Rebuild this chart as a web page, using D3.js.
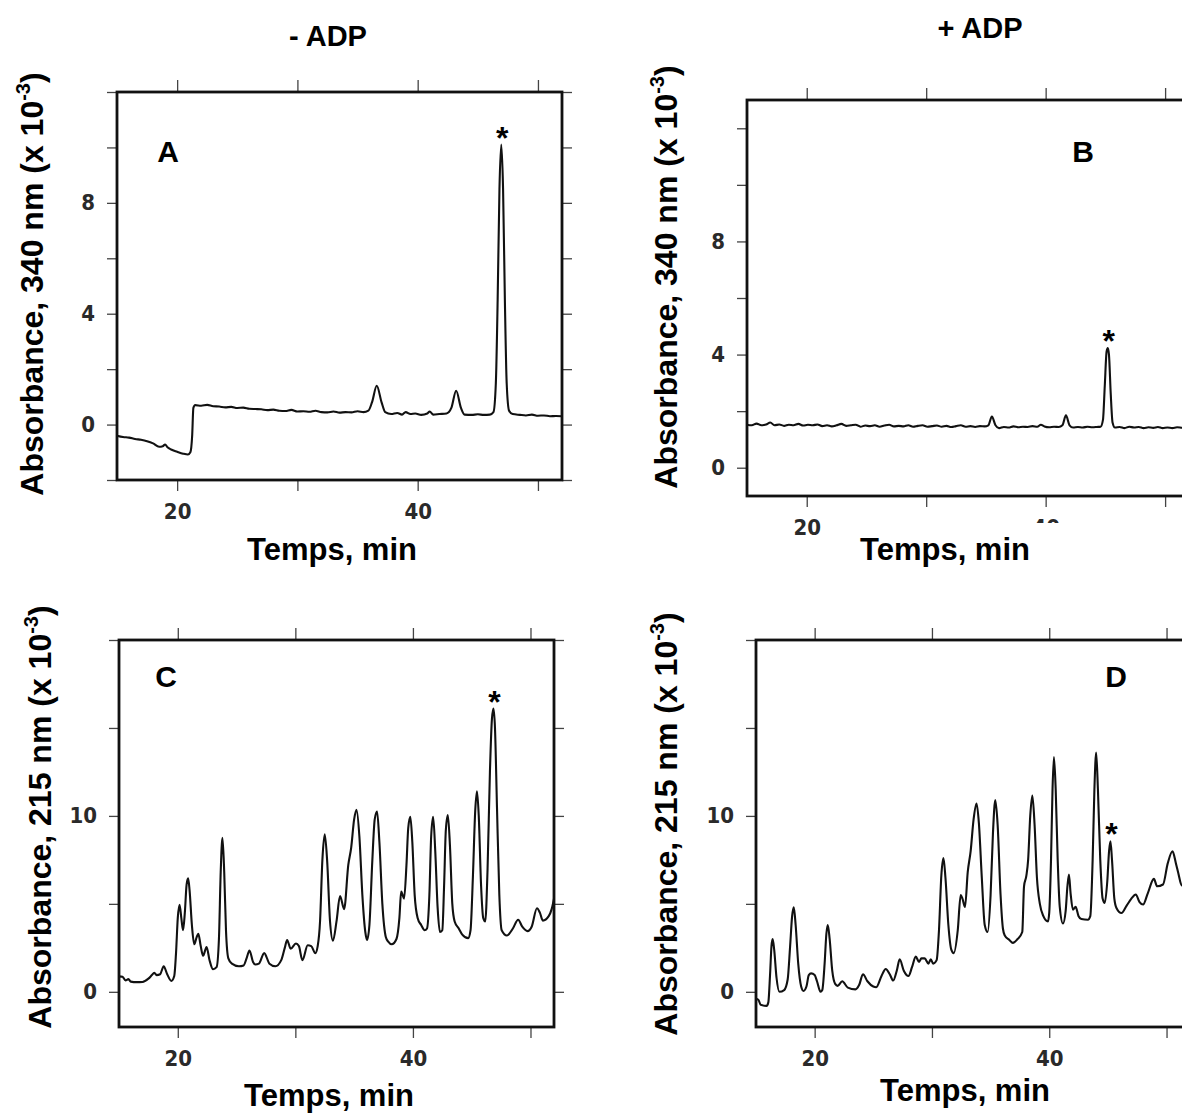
<!DOCTYPE html>
<html>
<head>
<meta charset="utf-8">
<script src="https://cdn.jsdelivr.net/npm/d3@7"></script>
<style>
  body { margin: 0; background: #fff; overflow: hidden; }
  .tick line { stroke: #444; stroke-width: 1.3; }
  .big { font-family: "Liberation Sans", Arial, sans-serif; font-weight: bold; fill: #000; }
</style>
</head>
<body>
<div id="chart"></div>
<script>
var w = 1182,
    h = 1113;

// ---- data (time in min, absorbance x 10^-3) ----
var seriesA = [[15.0,-0.40],[15.5,-0.45],[16.0,-0.47],[16.5,-0.52],[17.0,-0.55],[17.5,-0.6],[18.0,-0.68],[18.5,-0.8],[18.8,-0.78],[19.0,-0.72],[19.2,-0.82],[19.5,-0.9],[20.0,-0.98],[20.5,-1.05],[20.9,-1.08],[21.1,-1.0],[21.25,-0.4],[21.35,0.6],[21.5,0.7],[22.0,0.68],[22.5,0.71],[23.0,0.66],[23.5,0.65],[24.0,0.62],[24.5,0.64],[25.0,0.6],[25.5,0.61],[26.0,0.57],[26.5,0.56],[27.0,0.55],[27.5,0.52],[28.0,0.54],[28.5,0.5],[29.0,0.49],[29.5,0.53],[30.0,0.47],[30.5,0.48],[31.0,0.46],[31.5,0.5],[32.0,0.45],[32.5,0.44],[33.0,0.47],[33.5,0.43],[34.0,0.45],[34.5,0.44],[35.0,0.48],[35.5,0.45],[35.9,0.5],[36.2,0.8],[36.6,1.4],[37.0,0.8],[37.3,0.45],[37.8,0.38],[38.3,0.42],[38.7,0.36],[39.0,0.45],[39.4,0.38],[39.8,0.4],[40.3,0.35],[40.8,0.4],[41.0,0.47],[41.3,0.36],[41.8,0.38],[42.4,0.4],[42.8,0.6],[43.2,1.22],[43.6,0.6],[43.9,0.36],[44.5,0.35],[45.0,0.37],[45.5,0.35],[46.0,0.36],[46.3,0.45],[46.5,1.5],[46.65,4.5],[46.8,8.5],[46.95,10.1],[47.1,8.5],[47.25,4.5],[47.4,1.5],[47.6,0.5],[47.9,0.38],[48.5,0.35],[49.0,0.33],[49.5,0.36],[50.0,0.32],[50.5,0.33],[51.0,0.3],[51.5,0.31],[52.0,0.3]];

var seriesB = [[15.0,1.52],[15.4,1.5],[15.8,1.56],[16.2,1.5],[16.6,1.53],[16.95,1.6],[17.3,1.5],[17.7,1.53],[18.1,1.48],[18.5,1.52],[18.9,1.5],[19.3,1.55],[19.7,1.49],[20.1,1.52],[20.5,1.5],[20.9,1.53],[21.3,1.47],[21.7,1.5],[22.1,1.46],[22.5,1.5],[22.9,1.55],[23.3,1.48],[23.7,1.5],[24.1,1.52],[24.5,1.45],[24.9,1.49],[25.3,1.47],[25.7,1.5],[26.1,1.45],[26.5,1.49],[26.9,1.52],[27.3,1.46],[27.7,1.48],[28.1,1.46],[28.5,1.5],[28.9,1.45],[29.3,1.48],[29.7,1.5],[30.1,1.45],[30.5,1.47],[30.9,1.49],[31.3,1.45],[31.7,1.48],[32.1,1.44],[32.5,1.47],[32.9,1.5],[33.3,1.45],[33.7,1.47],[34.1,1.44],[34.5,1.47],[34.9,1.46],[35.2,1.5],[35.5,1.81],[35.8,1.5],[36.1,1.4],[36.5,1.44],[36.9,1.42],[37.3,1.46],[37.7,1.43],[38.1,1.45],[38.5,1.44],[38.9,1.47],[39.3,1.45],[39.6,1.52],[39.9,1.46],[40.3,1.43],[40.7,1.45],[41.1,1.44],[41.4,1.5],[41.7,1.85],[42.0,1.5],[42.3,1.42],[42.7,1.44],[43.1,1.42],[43.5,1.45],[43.9,1.43],[44.3,1.44],[44.6,1.45],[44.8,1.7],[44.95,2.9],[45.1,4.1],[45.2,4.23],[45.3,4.0],[45.45,2.6],[45.6,1.6],[45.8,1.42],[46.2,1.44],[46.6,1.4],[47.0,1.45],[47.4,1.42],[47.8,1.44],[48.2,1.4],[48.6,1.43],[49.0,1.41],[49.4,1.44],[49.8,1.4],[50.2,1.42],[50.6,1.4],[51.0,1.43],[51.5,1.41],[52.0,1.42]];

var seriesC = [[15.0,0.88],[15.3,0.86],[15.55,0.65],[15.8,0.72],[16.0,0.58],[16.5,0.55],[17.0,0.56],[17.5,0.75],[17.8,0.95],[18.0,1.08],[18.2,0.95],[18.5,1.0],[18.8,1.45],[19.1,1.0],[19.45,0.62],[19.7,0.9],[19.85,2.2],[20.0,4.2],[20.15,4.95],[20.3,4.2],[20.45,3.5],[20.6,4.5],[20.75,6.1],[20.88,6.45],[21.0,5.8],[21.2,3.8],[21.4,2.7],[21.6,3.1],[21.75,3.3],[21.95,2.6],[22.15,2.05],[22.45,2.55],[22.7,1.8],[23.0,1.28],[23.3,1.4],[23.5,3.0],[23.65,6.8],[23.8,8.75],[23.95,6.8],[24.1,3.5],[24.3,1.9],[24.6,1.6],[25.2,1.45],[25.6,1.5],[25.85,1.9],[26.1,2.35],[26.4,1.7],[26.6,1.55],[26.9,1.6],[27.35,2.2],[27.8,1.6],[28.3,1.45],[28.8,1.8],[29.1,2.5],[29.3,2.95],[29.6,2.45],[30.05,2.75],[30.3,2.6],[30.6,1.8],[31.05,2.65],[31.35,2.6],[31.7,2.2],[31.9,2.6],[32.1,4.0],[32.3,7.5],[32.5,8.95],[32.7,7.5],[32.95,4.0],[33.2,2.9],[33.5,4.0],[33.8,5.45],[34.15,4.7],[34.5,7.2],[34.75,8.2],[35.0,9.8],[35.2,10.35],[35.45,8.8],[35.7,5.5],[35.95,3.4],[36.1,2.95],[36.3,3.8],[36.55,7.5],[36.75,9.8],[36.95,10.25],[37.15,8.5],[37.4,5.0],[37.7,3.1],[37.9,2.85],[38.2,2.7],[38.6,3.0],[38.85,4.2],[39.0,5.7],[39.25,5.3],[39.45,7.2],[39.6,9.3],[39.78,9.95],[39.95,8.5],[40.15,5.5],[40.4,4.2],[40.7,3.8],[41.0,3.5],[41.2,3.6],[41.4,5.5],[41.55,8.8],[41.72,9.95],[41.9,8.0],[42.1,4.8],[42.3,3.4],[42.5,3.5],[42.65,6.0],[42.8,9.2],[42.97,10.05],[43.15,8.3],[43.35,5.0],[43.55,4.0],[43.9,3.6],[44.2,3.25],[44.7,3.05],[44.9,3.5],[45.1,6.5],[45.3,10.3],[45.45,11.4],[45.6,10.0],[45.8,6.0],[45.98,4.2],[46.15,4.0],[46.35,7.0],[46.55,12.5],[46.72,15.5],[46.85,16.1],[46.98,15.0],[47.15,10.5],[47.35,5.5],[47.55,3.5],[48.0,3.2],[48.5,3.6],[48.95,4.1],[49.3,3.7],[49.75,3.45],[50.1,3.7],[50.55,4.75],[50.8,4.5],[51.05,4.05],[51.55,4.3],[51.8,4.7],[52.0,5.3]];

var seriesD = [[15.0,-0.4],[15.2,-0.45],[15.4,-0.74],[15.9,-0.8],[16.05,-0.6],[16.2,1.0],[16.32,2.6],[16.42,3.0],[16.55,2.4],[16.75,0.8],[17.0,0.0],[17.4,0.1],[17.7,0.7],[17.9,2.5],[18.08,4.3],[18.22,4.8],[18.38,3.8],[18.6,1.6],[18.85,0.3],[19.05,0.05],[19.3,0.3],[19.5,0.95],[19.7,1.05],[20.0,0.95],[20.2,0.6],[20.5,0.0],[20.65,0.1],[20.85,1.6],[21.0,3.3],[21.12,3.8],[21.28,3.0],[21.5,1.2],[21.75,0.45],[21.96,0.34],[22.35,0.6],[22.83,0.24],[23.48,0.14],[23.8,0.4],[24.12,1.0],[24.5,0.6],[25.0,0.3],[25.25,0.26],[25.7,0.9],[26.06,1.3],[26.4,1.0],[26.7,0.64],[27.0,1.2],[27.25,1.85],[27.6,1.2],[28.0,0.9],[28.3,1.4],[28.62,2.0],[28.9,1.7],[29.1,1.9],[29.38,1.9],[29.7,1.6],[29.9,1.85],[30.1,1.6],[30.4,1.8],[30.6,3.5],[30.8,6.6],[30.98,7.6],[31.15,6.5],[31.4,3.8],[31.65,2.4],[31.86,2.2],[32.2,3.5],[32.45,5.5],[32.6,5.3],[32.82,4.82],[33.05,6.8],[33.3,8.0],[33.55,9.8],[33.8,10.7],[34.0,9.6],[34.25,6.5],[34.5,3.8],[34.75,3.4],[35.0,5.5],[35.2,9.0],[35.4,10.9],[35.6,9.5],[35.85,5.5],[36.05,3.6],[36.21,3.2],[36.6,2.95],[36.9,2.78],[37.3,3.0],[37.7,3.4],[37.85,6.0],[38.05,6.6],[38.2,7.5],[38.38,10.0],[38.56,11.16],[38.75,9.5],[38.95,6.5],[39.2,5.0],[39.5,4.3],[39.89,4.0],[40.0,4.5],[40.15,7.5],[40.28,11.5],[40.4,13.35],[40.55,11.5],[40.72,7.5],[40.9,4.8],[41.17,3.88],[41.4,4.6],[41.55,6.0],[41.68,6.66],[41.82,5.6],[42.02,4.67],[42.25,4.83],[42.5,4.3],[42.74,4.14],[43.3,4.1],[43.5,4.3],[43.7,7.5],[43.85,11.5],[44.0,13.6],[44.15,11.5],[44.35,7.5],[44.55,5.3],[44.73,5.05],[44.95,6.3],[45.1,8.0],[45.22,8.56],[45.35,7.5],[45.55,5.3],[45.73,4.77],[46.16,4.48],[46.6,4.9],[47.0,5.3],[47.38,5.53],[47.7,5.1],[48.0,4.96],[48.4,5.6],[48.92,6.42],[49.2,6.0],[49.7,6.1],[50.1,7.3],[50.51,7.99],[50.8,7.3],[51.0,6.76],[51.3,6.04],[51.7,6.1],[52.0,6.2]];

// retention time of the peak marked with *
var starTimes = [46.95, 45.2, 46.85, 45.22];

var timeDomain = [15, 52];
var timeTicks = [20, 30, 40, 50];
var timeLabels = [20, 40];

var yDomains = [[-2, 12], [-1, 13], [-2, 20], [-2, 20]];
var yTickLists = [[-2, 0, 2, 4, 6, 8, 10, 12], [0, 2, 4, 6, 8, 10, 12], [0, 5, 10, 15, 20], [0, 5, 10, 15, 20]];
var yLabelLists = [[0, 4, 8], [0, 4, 8], [0, 10], [0, 10]];

var panelLetters = ["A", "B", "C", "D"];
var yTitles = ["340", "340", "215", "215"];

// ---- layout (pixels) ----
var panels = [
    { x0: 117, x1: 562, y0: 92, y1: 480, letter: [168, 162], ytitle: [43, 284], xtitle: [332, 560] },
    { x0: 747, x1: 1189, y0: 100, y1: 496, letter: [1083, 162], ytitle: [677, 277], xtitle: [945, 560] },
    { x0: 119, x1: 554, y0: 640, y1: 1027, letter: [166, 687], ytitle: [51, 817], xtitle: [329, 1106] },
    { x0: 756, x1: 1190, y0: 640, y1: 1027, letter: [1116, 687], ytitle: [677, 824], xtitle: [965, 1101] }
];
var allSeries = [seriesA, seriesB, seriesC, seriesD];

var svg = d3.select("#chart").append("svg")
    .attr("width", w)
    .attr("height", h);

// column titles
svg.append("text").attr("class", "big")
    .attr("x", 328).attr("y", 46)
    .attr("text-anchor", "middle")
    .style("font-size", "29px")
    .text("- ADP");
svg.append("text").attr("class", "big")
    .attr("x", 980).attr("y", 38)
    .attr("text-anchor", "middle")
    .style("font-size", "29px")
    .text("+ ADP");

// tick numbers: tall, narrow, dark grey
function styleTicks(a) {
    a.select(".domain").remove();
    a.selectAll(".tick text")
        .attr("font-family", "'DejaVu Sans Condensed', 'Liberation Sans Narrow', sans-serif")
        .attr("font-weight", "bold")
        .attr("font-size", 22)
        .attr("fill", "#2a2a2a");
}

panels.forEach(function(p, i) {
    var x = d3.scaleLinear().domain(timeDomain).range([p.x0, p.x1]);
    var y = d3.scaleLinear().domain(yDomains[i]).range([p.y1, p.y0]);
    var g = svg.append("g");

    var fmtX = function(d) { return timeLabels.indexOf(d) >= 0 ? d : ""; };
    var fmtY = function(d) { return yLabelLists[i].indexOf(d) >= 0 ? d : ""; };

    // axes on all four sides, ticks pointing out
    g.append("g").attr("transform", "translate(0," + p.y1 + ")")
        .call(d3.axisBottom(x).tickValues(timeTicks).tickFormat(fmtX).tickSize(11).tickSizeOuter(0).tickPadding(12))
        .call(styleTicks);
    g.append("g").attr("transform", "translate(0," + p.y0 + ")")
        .call(d3.axisTop(x).tickValues(timeTicks).tickFormat("").tickSize(12).tickSizeOuter(0))
        .call(styleTicks);
    g.append("g").attr("transform", "translate(" + p.x0 + ",0)")
        .call(d3.axisLeft(y).tickValues(yTickLists[i]).tickFormat(fmtY).tickSize(10).tickSizeOuter(0).tickPadding(12))
        .call(styleTicks);
    g.append("g").attr("transform", "translate(" + p.x1 + ",0)")
        .call(d3.axisRight(y).tickValues(yTickLists[i]).tickFormat("").tickSize(10).tickSizeOuter(0))
        .call(styleTicks);

    // panel B: the "40" label is mostly hidden in the original
    if (i == 1) {
        g.append("rect")
            .attr("x", x(40) - 18).attr("y", p.y1 + 27)
            .attr("width", 36).attr("height", 24)
            .attr("fill", "#fff");
    }

    // frame
    g.append("rect")
        .attr("x", p.x0).attr("y", p.y0)
        .attr("width", p.x1 - p.x0).attr("height", p.y1 - p.y0)
        .attr("fill", "none")
        .attr("stroke", "#111")
        .attr("stroke-width", 2.8);

    // trace
    var line = d3.line()
        .x(function(d) { return x(d[0]); })
        .y(function(d) { return y(d[1]); })
        .curve(d3.curveMonotoneX);

    g.append("path")
        .datum(allSeries[i])
        .attr("d", line)
        .attr("fill", "none")
        .attr("stroke", "#111")
        .attr("stroke-width", 2.1)
        .attr("stroke-linejoin", "round");

    // asterisk over the marked peak
    var top = allSeries[i]
        .filter(function(d) { return Math.abs(d[0] - starTimes[i]) < 0.3; })
        .reduce(function(a, b) { return b[1] > a[1] ? b : a; });
    g.append("text").attr("class", "big")
        .attr("x", x(top[0]) + 1)
        .attr("y", y(top[1]) + 4)
        .attr("text-anchor", "middle")
        .style("font-size", "32px")
        .text("*");

    // panel letter
    g.append("text").attr("class", "big")
        .attr("x", p.letter[0]).attr("y", p.letter[1])
        .attr("text-anchor", "middle")
        .style("font-size", "30px")
        .text(panelLetters[i]);

    // axis titles
    g.append("text").attr("class", "big")
        .attr("x", p.xtitle[0]).attr("y", p.xtitle[1])
        .attr("text-anchor", "middle")
        .style("font-size", "31px")
        .text("Temps, min");

    var yt = g.append("text").attr("class", "big")
        .attr("transform", "translate(" + p.ytitle[0] + "," + p.ytitle[1] + ") rotate(-90)")
        .attr("text-anchor", "middle")
        .style("font-size", "32px");
    yt.append("tspan").text("Absorbance,  " + yTitles[i] + " nm (x 10");
    yt.append("tspan").attr("dy", -13).style("font-size", "20px").text("-3");
    yt.append("tspan").attr("dy", 13).text(")");
});
</script>
</body>
</html>
